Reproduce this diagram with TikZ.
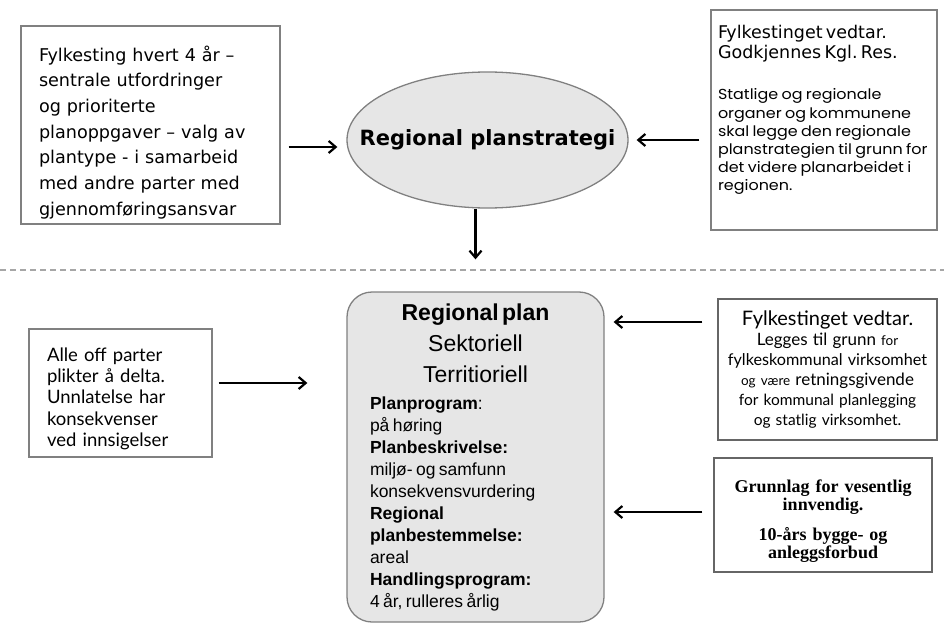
\documentclass[tikz,border=0pt]{standalone}
\usepackage{fontspec}
\usetikzlibrary{arrows.meta,shapes.geometric}
\newfontfamily\tahomafont{DejaVu Sans}
\newfontfamily\arialfont{Liberation Sans}
\newfontfamily\gillfont{Lato}
\newfontfamily\gothicfont[FakeStretch=1.1]{Poppins}
\newfontfamily\cambriafont{Liberation Serif}
\definecolor{kant}{RGB}{128,128,128}
\definecolor{flate}{RGB}{230,230,230}
\tikzset{
  boks/.style={rectangle, draw=kant, line width=1.3pt, inner ysep=4pt},
  pil/.style={-{Straight Barb[length=7pt,width=12pt]}, line width=2.2pt, black},
}
\begin{document}
\begin{tikzpicture}[x=1pt, y=-1pt]
    \useasboundingbox (0,0) rectangle (944,623);

    % skillelinje
    \draw[kant!70, dashed, dash pattern=on 6pt off 4pt, line width=1.3pt] (0,270) -- (944,270);

    % oevre del
    \node [boks, minimum width=259, minimum height=198, text width=223, inner xsep=18, align=left,
           font=\tahomafont\fontsize{17.6}{25.7}\selectfont] (fylkesting) at (150.5,125)
          {\rule{0pt}{30pt}Fylkesting hvert 4 år –\\ sentrale utfordringer\\ og prioriterte\\ planoppgaver – valg av\\ plantype - i samarbeid\\ med andre parter med\\ gjennomføringsansvar};
    \node [ellipse, draw=kant, fill=flate, line width=1.3pt, inner sep=0pt, minimum width=281, minimum height=136,
           label={[font=\tahomafont\bfseries\fontsize{21}{22}\selectfont]center:Regional planstrategi}] (strategi) at (487.5,140) {};
    \node [boks, minimum width=226, minimum height=220, text width=212, inner xsep=7, align=left] (vedtar1) at (824,120)
          {{\tahomafont\fontsize{17.5}{20}\selectfont Fylkestinget vedtar.\\ Godkjennes Kgl.\ Res.\par}
           \vspace{23pt}
           {\gothicfont\fontsize{14.5}{18.1}\selectfont \mbox{Statlige og regionale}\\ \mbox{organer og kommunene}\\
            \mbox{skal legge den regionale}\\ \mbox{planstrategien til grunn for}\\ \mbox{det videre planarbeidet i}\\ regionen.\rule[-24pt]{0pt}{0pt}\par}};

    % nedre del
    \node [boks, minimum width=183, minimum height=128, text width=147, inner xsep=18, align=left,
           font=\gillfont\fontsize{18.5}{21.3}\selectfont] (alle) at (120.5,393)
          {\rule{0pt}{25pt}Alle off parter\\ plikter å delta.\\ Unnlatelse har\\ konsekvenser\\ ved innsigelser};
    \node [boks, rounded corners=25pt, fill=flate, minimum width=257, minimum height=330, text width=211, inner xsep=23,
           align=left, font=\arialfont] (plan) at (475.5,457)
          {{\centering\fontsize{23}{31}\selectfont\textbf{Regional plan}\\ Sektoriell\\ Territioriell\par}
           \vspace{5pt}
           {\fontsize{17.5}{22}\selectfont
            \textbf{Planprogram}:\\ på høring\\
            \textbf{Planbeskrivelse:}\\ miljø- og samfunn\\
            konsekvensvurdering\\
            \textbf{Regional}\\
            \textbf{planbestemmelse:}\\ areal\\
            \textbf{Handlingsprogram:}\\ 4 år, rulleres årlig\par}};
    \node [boks, draw=kant!80!black, minimum width=219, minimum height=141, text width=213, inner xsep=3, align=center,
           font=\gillfont\fontsize{15.5}{20}\selectfont] (vedtar2) at (827.5,369.5)
          {{\fontsize{20}{20}\selectfont Fylkestinget vedtar.}\\
           {\fontsize{17}{20}\selectfont Legges til grunn} {\fontsize{13.5}{20}\selectfont for}\\
           {\fontsize{16.2}{20}\selectfont fylkeskommunal virksomhet}\\
           {\fontsize{13.5}{20}\selectfont og være} {\fontsize{17}{20}\selectfont retningsgivende}\\
           for kommunal planlegging\\
           og statlig virksomhet.};
    \node [boks, draw=kant!80!black, minimum width=218, minimum height=114, text width=210, inner xsep=4, align=center,
           font=\cambriafont\bfseries\fontsize{18}{18}\selectfont] (grunnlag) at (823,515)
          {\rule{0pt}{25pt}Grunnlag for vesentlig\\ innvendig.\par\vspace{12pt}10-års bygge- og\\ anleggsforbud};

    % piler
    \draw[pil, shorten <=8pt, shorten >=9pt] ([yshift=-22pt]fylkesting.east) -- ([yshift=-22pt]fylkesting.east -| strategi.west);
    \draw[pil, shorten <=11pt, shorten >=8pt] (vedtar1.west |- strategi.east) -- (strategi.east);
    \draw[pil, shorten >=32pt] (strategi.south -| plan.north) -- (plan.north);
    \draw[pil, shorten <=6pt, shorten >=39pt] ([yshift=10pt]alle.east) -- ([yshift=10pt]alle.east -| plan.west);
    \draw[pil, shorten <=15pt, shorten >=9pt] ([yshift=47.5pt]vedtar2.west) -- ([yshift=47.5pt]vedtar2.west -| plan.east);
    \draw[pil, shorten <=11pt, shorten >=9pt] ([yshift=3pt]grunnlag.west) -- ([yshift=3pt]grunnlag.west -| plan.east);
\end{tikzpicture}
\end{document}
